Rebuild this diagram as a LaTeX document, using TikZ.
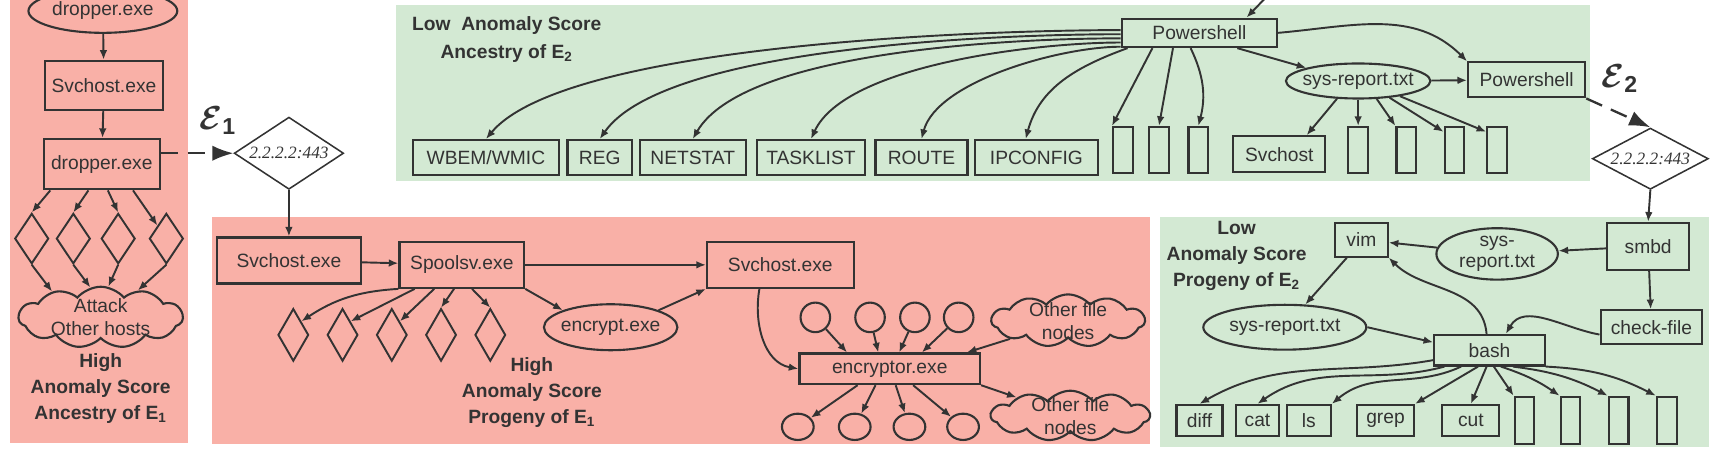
\documentclass[tikz,border=0pt]{standalone}
\usepackage{amsmath}
\usepackage{fontspec}
\setmainfont{Liberation Sans}
\newfontfamily\addrfont{Liberation Serif}
\usetikzlibrary{arrows.meta,shapes.geometric,shapes.symbols}
\definecolor{ink}{HTML}{333333}
\definecolor{hotbg}{HTML}{F9B0A7}
\definecolor{coolbg}{HTML}{D3E9D3}
\tikzset{
  proc/.style={draw, rectangle, line width=1.1pt, inner sep=0pt, minimum height=0.84cm},
  file/.style={draw, ellipse, line width=1.1pt, inner xsep=-3pt, inner ysep=0pt},
  sock/.style={draw, diamond, line width=1pt, inner sep=0pt, minimum width=0.62cm, minimum height=0.92cm},
  slot/.style={draw, rectangle, line width=1.1pt, inner sep=0pt, minimum width=0.36cm, minimum height=0.84cm},
  peer/.style={draw, diamond, aspect=2, line width=0.8pt, inner sep=0pt, font=\addrfont\itshape\fontsize{9}{10}\selectfont},
  hosts/.style={draw, cloud, cloud puffs=11, cloud puff arc=100, cloud ignores aspect, line width=1.1pt, inner xsep=-4pt, inner ysep=-5pt, align=center},
  blob/.style={draw, ellipse, line width=1.1pt, inner sep=0pt},
  caption/.style={align=center, font=\bfseries\fontsize{10}{13.6}\selectfont},
  jump/.style={dash pattern=on 9pt off 5pt, -{Latex[length=11pt,width=8pt]}, line width=1.2pt},
  elab/.style={font=\LARGE}
}
\begin{document}
\begin{tikzpicture}[x=0.02cm, y=-0.02cm, color=ink, line width=1pt, >={Latex[length=5pt,width=4pt]},
  every node/.style={font=\fontsize{10}{12}\selectfont}]
\useasboundingbox (0,0) rectangle (1568,417);
\fill[hotbg] (9,-5) rectangle (172,405);
\fill[hotbg] (194,198) rectangle (1051,406);
\fill[coolbg] (362,5) rectangle (1453,165);
\fill[coolbg] (1060,198) rectangle (1562,408);

\node (drop1) [file, minimum width=2.72cm, minimum height=0.8cm] at (94,10) {dropper.exe};
\node (svc1) [proc, minimum width=2.16cm, minimum height=0.9cm] at (95,78) {Svchost.exe};
\node (drop2) [proc, minimum width=2.12cm, minimum height=0.92cm] at (93,150) {dropper.exe};
\node (l1) [sock] at (29,218) {};
\node (l2) [sock] at (67,218) {};
\node (l3) [sock] at (108,218) {};
\node (l4) [sock] at (152,218) {};
\node (attack) [hosts, minimum width=3cm, minimum height=1.12cm] at (92,290) {Attack\\Other hosts};
\node (cap1) [caption] at (92,355) {High\\Anomaly Score\\Ancestry of E\textsubscript{1}};
\draw[->] (drop1) -- (svc1);
\draw[->] (svc1) -- (drop2);
\draw[->] (drop2.-153) -- (l1.north);
\draw[->] (drop2.-117) -- (l2.north);
\draw[->] (drop2.-77) -- (l3.north);
\draw[->] (drop2.-40) -- (l4.north west);
\draw[->] (l1.south) -- (attack.152);
\draw[->] (l2.south) -- (attack.109);
\draw[->] (l3.south) -- (attack.76);
\draw[->] (l4.south) -- (attack.36);

\node (e1) [peer, minimum width=2cm, minimum height=1.32cm] at (264,140) {2.2.2.2:443};
\node (e1lab) [elab] at (199,110) {$\boldsymbol{\mathcal{E}}_{\mathbf{1}}$};
\draw[jump] (drop2.east |- e1.west) -- (e1.west);

\node (svc2) [proc, minimum width=2.64cm] at (264,238) {Svchost.exe};
\node (spool) [proc, minimum width=2.28cm] at (422,242) {Spoolsv.exe};
\node (svc3) [proc, minimum width=2.68cm] at (713,242) {Svchost.exe};
\node (enc) [file, minimum width=2.44cm, minimum height=0.84cm] at (558,299) {encrypt.exe};
\node (p1) [sock, minimum width=0.56cm, minimum height=0.96cm] at (268,306) {};
\node (p2) [sock, minimum width=0.56cm, minimum height=0.96cm] at (313,306) {};
\node (p3) [sock, minimum width=0.56cm, minimum height=0.96cm] at (358,306) {};
\node (p4) [sock, minimum width=0.56cm, minimum height=0.96cm] at (403,306) {};
\node (p5) [sock, minimum width=0.56cm, minimum height=0.96cm] at (448,306) {};
\node (cap2) [caption] at (486,359) {High\\Anomaly Score\\Progeny of E\textsubscript{1}};
\node (encr) [proc, minimum width=3.3cm, minimum height=0.56cm] at (813,337) {encryptor.exe};
\node (t1) [blob, minimum width=0.54cm, minimum height=0.54cm] at (745,290) {};
\node (t2) [blob, minimum width=0.54cm, minimum height=0.54cm] at (795,290) {};
\node (t3) [blob, minimum width=0.54cm, minimum height=0.54cm] at (836,290) {};
\node (t4) [blob, minimum width=0.54cm, minimum height=0.54cm] at (876,290) {};
\node (b1) [blob, minimum width=0.58cm, minimum height=0.48cm] at (729,390) {};
\node (b2) [blob, minimum width=0.58cm, minimum height=0.48cm] at (781,390) {};
\node (b3) [blob, minimum width=0.58cm, minimum height=0.48cm] at (831,390) {};
\node (b4) [blob, minimum width=0.58cm, minimum height=0.48cm] at (880,390) {};
\node (cl1) [hosts, minimum width=2.8cm, minimum height=0.96cm] at (976,293) {Other file\\nodes};
\node (cl2) [hosts, minimum width=2.9cm, minimum height=0.92cm] at (978,380) {Other file\\nodes};
\draw[->] (e1.south) -- (svc2.north);
\draw[->] (svc2) -- (spool);
\draw[->] (spool) -- (svc3);
\draw[->] (spool.south east) -- (enc.north west);
\draw[->] (enc.north east) -- (svc3.south west);
\draw[->] (spool.south west) to[bend right=15] (p1.north east);
\draw[->] (spool.-153) -- (p2.north east);
\draw[->] (spool.-139) -- (p3.north east);
\draw[->] (spool.-108) -- (p4.north);
\draw[->] (spool.-67) -- (p5.north);
\draw[->] (svc3.-131) to[out=-100,in=170] (encr.west);
\draw[->] (t1) -- (encr.159);
\draw[->] (t2) -- (encr.125);
\draw[->] (t3) -- (encr.60);
\draw[->] (t4) -- (encr.27);
\draw[->] (cl1) -- (encr.12);
\draw[->] (encr.-153) -- (b1);
\draw[->] (encr.-131) -- (b2);
\draw[->] (encr.-70) -- (b3);
\draw[->] (encr.-35) -- (b4);
\draw[->] (encr.south east) -- (cl2);

\node (cap3) [caption, font=\bfseries\fontsize{10}{14.7}\selectfont] at (463,36) {Low~ Anomaly Score\\Ancestry of E\textsubscript{2}};
\node (ps) [proc, minimum width=2.84cm, minimum height=0.52cm] at (1096,30) {Powershell};
\node (wbem) [proc, minimum width=2.66cm, minimum height=0.64cm] at (444,144) {WBEM/WMIC};
\node (reg) [proc, minimum width=1.18cm, minimum height=0.64cm] at (548,144) {REG};
\node (netstat) [proc, minimum width=1.94cm, minimum height=0.64cm] at (633,144) {NETSTAT};
\node (tasklist) [proc, minimum width=1.98cm, minimum height=0.64cm] at (741,144) {TASKLIST};
\node (route) [proc, minimum width=1.68cm, minimum height=0.64cm] at (842,144) {ROUTE};
\node (ipconfig) [proc, minimum width=2.24cm, minimum height=0.64cm] at (947,144) {IPCONFIG};
\node (s1) [slot] at (1026,137) {};
\node (s2) [slot] at (1059,137) {};
\node (s3) [slot] at (1095,137) {};
\node (svh) [proc, minimum width=1.68cm, minimum height=0.66cm] at (1169,141) {Svchost};
\node (s4) [slot] at (1241,137) {};
\node (s5) [slot] at (1285,137) {};
\node (s6) [slot] at (1329,137) {};
\node (s7) [slot] at (1368,137) {};
\node (sr1) [file, minimum width=2.64cm, minimum height=0.64cm] at (1241,74) {sys-report.txt};
\node (psr) [proc, minimum width=2.14cm, minimum height=0.64cm] at (1395,73) {Powershell};
\coordinate (from) at (1168,-14);
\draw[->] (from) -- (ps.18);
\foreach \n/\o/\i/\l in {wbem/178/50/0.5, reg/181/55/0.55, netstat/184/60/0.6, tasklist/187/65/0.65, route/190/75/0.7}
  \draw[->] (ps.\o) to[out=180,in=\i,looseness=\l] (\n.north);
\draw[->] (ps.-168) to[out=200,in=75] (ipconfig.120);
\draw[->] (ps.-162) -- (s1.north west);
\draw[->] (ps.-150) -- (s2.north);
\draw[->] (ps.-120) to[bend left=20] (s3.north);
\draw[->] (ps.-22) -- (sr1.north west);
\draw[->] (ps.east) to[out=5,in=135] (psr.north west);
\draw[->] (sr1) -- (psr);
\draw[->] (sr1.-140) -- (svh.35);
\draw[->] (sr1.-90) -- (s4.north);
\draw[->] (sr1.-44) -- (s5.north west);
\draw[->] (sr1.-28) -- (s6.121);
\draw[->] (sr1.-20) -- (s7.121);

\node (e2) [peer, minimum width=2.12cm, minimum height=1.12cm] at (1508,145) {2.2.2.2:443};
\node (e2lab) [elab] at (1480,72) {$\boldsymbol{\mathcal{E}}_{\mathbf{2}}$};
\draw[jump] (psr.south east) -- (e2.north);

\node (cap4) [caption] at (1130,234) {Low\\Anomaly Score\\Progeny of E\textsubscript{2}};
\node (vim) [proc, minimum width=0.96cm, minimum height=0.62cm] at (1244,219) {vim};
\node (sr2) [file, minimum width=2.22cm, minimum height=0.94cm, align=center, font=\fontsize{10}{11.3}\selectfont] at (1368,232) {sys-\\report.txt};
\node (smbd) [proc, minimum width=1.5cm, minimum height=0.86cm] at (1506,225) {smbd};
\node (cf) [proc, minimum width=1.86cm, minimum height=0.62cm] at (1509,299) {check-file};
\node (sr3) [file, minimum width=2.98cm, minimum height=0.82cm] at (1174,299) {sys-report.txt};
\node (bash) [proc, minimum width=2.02cm, minimum height=0.56cm] at (1361,320) {bash};
\node (diff) [proc, minimum width=0.84cm, minimum height=0.56cm] at (1096,384) {diff};
\node (cat) [proc, minimum width=0.8cm, minimum height=0.56cm] at (1149,384) {cat};
\node (ls) [proc, minimum width=0.8cm, minimum height=0.56cm] at (1196,384) {ls};
\node (grep) [proc, minimum width=1.04cm, minimum height=0.56cm] at (1266,384) {grep};
\node (cut) [proc, minimum width=1.04cm, minimum height=0.56cm] at (1344,384) {cut};
\node (q1) [slot, minimum height=0.86cm] at (1393,384) {};
\node (q2) [slot, minimum height=0.86cm] at (1435,384) {};
\node (q3) [slot, minimum height=0.86cm] at (1479,384) {};
\node (q4) [slot, minimum height=0.86cm] at (1523,384) {};
\draw[->] (e2.south) -- (smbd.north);
\draw[->] (smbd) -- (sr2);
\draw[->] (sr2) -- (vim);
\draw[->] (vim.-129) -- (sr3.48);
\draw[->] (sr3.east) -- (bash.172);
\draw[->] (bash.100) to[out=95,in=-45] (vim.south east);
\draw[->] (smbd) -- (cf);
\draw[->] (cf.-172) to[out=170,in=60] (bash.45);
\draw[->] (bash.190) to[out=190,in=30] (diff.north);
\draw[->] (bash.200) to[out=195,in=35] (cat.north);
\draw[->] (bash.-150) to[out=205,in=40] (ls.north east);
\draw[->] (bash.-125) -- (grep.north east);
\draw[->] (bash.-100) -- (cut.north);
\draw[->] (bash.-75) -- (q1.north west);
\draw[->] (bash.-55) to[bend left=8] (q2.north west);
\draw[->] (bash.-35) to[bend left=10] (q3.north west);
\draw[->] (bash.south east) to[bend left=12] (q4.north west);
\end{tikzpicture}
\end{document}
